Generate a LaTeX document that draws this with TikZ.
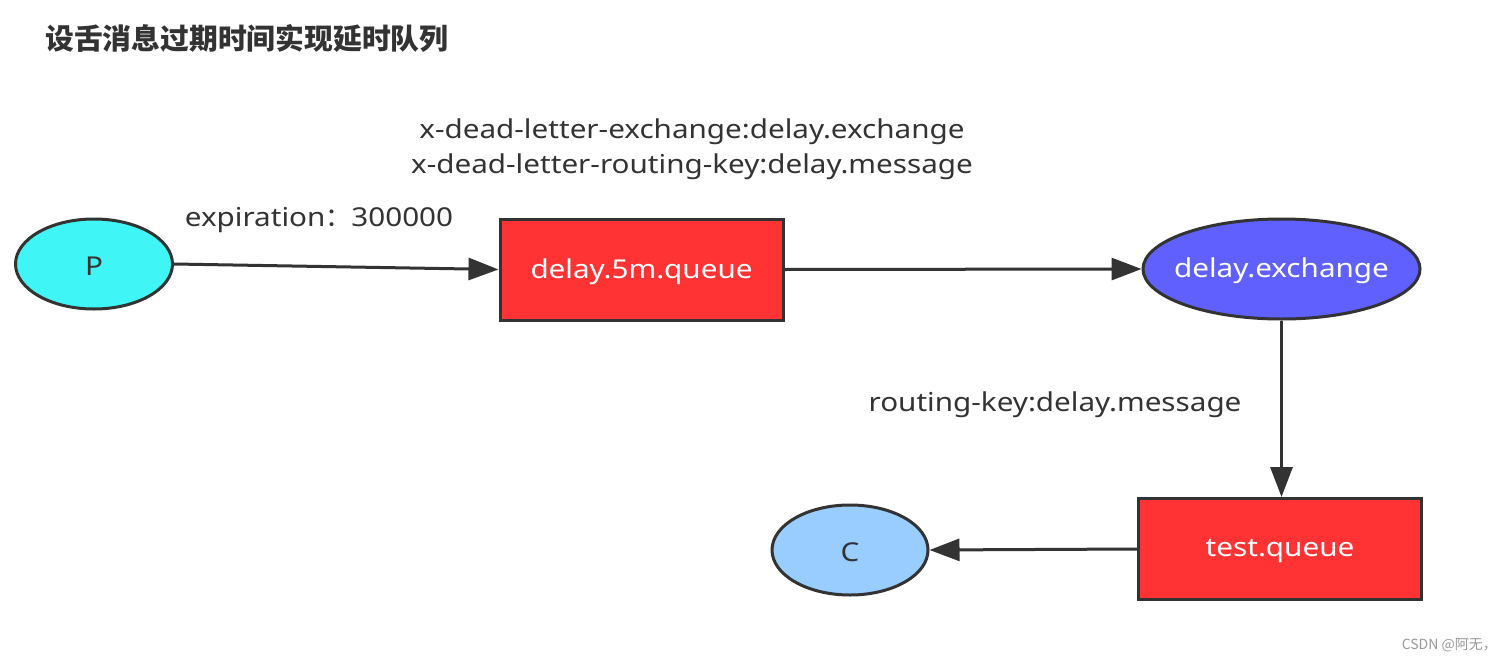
\documentclass[tikz,border=0pt]{standalone}
\usepackage{fontspec}
\setmainfont[FakeStretch=1.14]{Noto Sans}
\newfontfamily\cjk{Noto Sans CJK SC}
\usetikzlibrary{shapes.geometric,arrows.meta}
\definecolor{edge}{HTML}{333333}
\definecolor{txt}{HTML}{333333}
\definecolor{pfill}{HTML}{3FF5F5}
\definecolor{qfill}{HTML}{FF3333}
\definecolor{xfill}{HTML}{6060FF}
\definecolor{cfill}{HTML}{99CCFF}
\tikzset{
  oval/.style={ellipse, draw=edge, line width=3pt, inner sep=0pt},
  intext/.style={font=\fontsize{26}{29}\selectfont, yshift=-2pt},
  qbox/.style={rectangle, draw=edge, line width=3pt, fill=qfill, inner sep=0pt,
    minimum width=283pt, minimum height=101pt},
  conn/.style={draw=edge, line width=3pt, -{Triangle[length=30pt,width=22pt]}},
  lbl/.style={text=txt, font=\fontsize{26}{35}\selectfont, inner sep=0pt, align=center}
}
\begin{document}
\begin{tikzpicture}[x=1pt,y=-1pt]
\useasboundingbox[fill=white] (0,0) rectangle (1511,661);
\node[anchor=west, inner sep=0pt, text=txt] (title) at (45,38) {\cjk\bfseries\fontsize{28.8}{31}\selectfont 设舌消息过期时间实现延时队列};
\node[oval, fill=pfill, minimum width=157pt, minimum height=90pt,
  label={[intext, text=txt]center:P}] (P) at (94,264) {};
\node[qbox, label={[intext, text=white]center:delay.5m.queue}] (dq) at (641.5,269.5) {};
\node[oval, fill=xfill, minimum width=277pt, minimum height=100pt,
  label={[intext, text=white]center:delay.exchange}] (dx) at (1281.5,269) {};
\node[qbox, label={[intext, text=white]center:test.queue}] (tq) at (1280,549) {};
\node[oval, fill=cfill, minimum width=156pt, minimum height=90pt,
  label={[intext, text=txt]center:C}] (C) at (850,550) {};
\draw[conn] (P.east) -- (dq.west);
\draw[conn] (dq.east) -- (dx.west);
\draw[conn] (dx.south) -- (dx.south |- tq.north);
\draw[conn] (tq.west) -- (C.east);
\node[lbl] (exp) at (319,220) {expiration{\cjk ：}300000};
\node[lbl] (dl) at (692,149) {x-dead-letter-exchange:delay.exchange\\x-dead-letter-routing-key:delay.message};
\node[lbl] (rk) at (1055,405) {routing-key:delay.message};
\node[anchor=east, inner sep=0pt, text=gray!80] (wm) at (1497,645) {\cjk\fontsize{14}{16}\selectfont CSDN @阿无，};
\end{tikzpicture}
\end{document}
